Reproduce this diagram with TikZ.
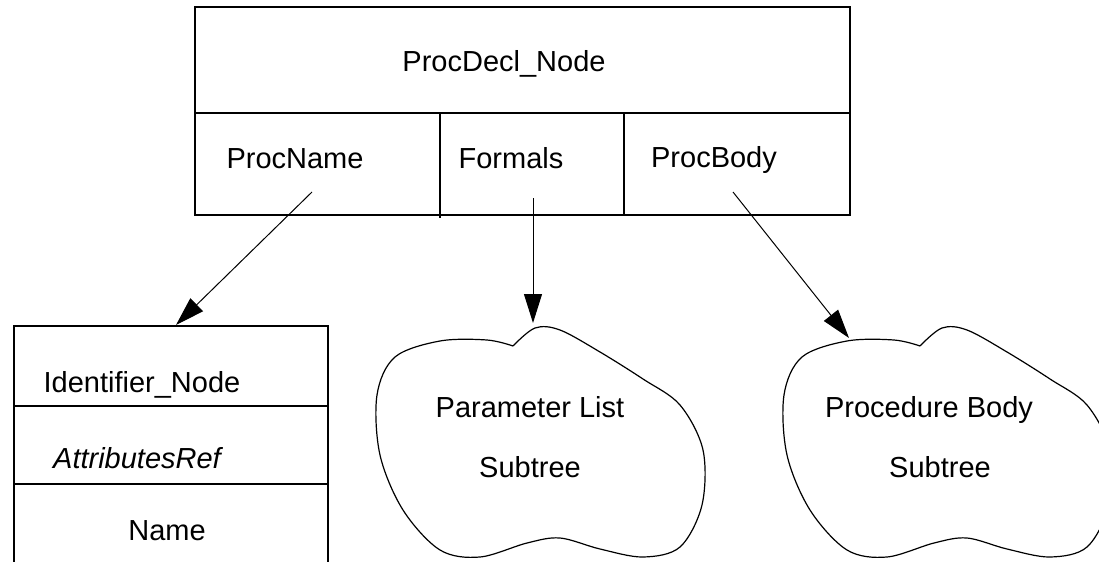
\documentclass[tikz,border=0pt]{standalone}
\usepackage{fontspec}
\setmainfont{Liberation Sans}
\usetikzlibrary{arrows.meta}
\begin{document}
\begin{tikzpicture}[x=0.5pt,y=-0.5pt,
  lbl/.style={anchor=base, inner sep=0pt, font=\fontsize{14.5pt}{17pt}\selectfont},
  frame/.style={draw=black, line width=0.65pt},
  link/.style={draw=black, line width=0.5pt, -{Triangle[length=14.5pt,width=9pt]}},
  cloudline/.style={draw=black, line width=0.6pt}]
\useasboundingbox (0,0) rectangle (1099,562);
\clip (0,0) rectangle (1099,562);

% procedure declaration record
\draw[frame] (195,7) rectangle (850,215);
\draw[frame] (195,113) -- (850,113);
\draw[frame] (440,113) -- (440,218);
\draw[frame] (624,113) -- (624,216);
\node[lbl] (decl)  at (504,71)  {ProcDecl\_Node};
\node[lbl] (pname) at (295,168) {ProcName};
\node[lbl] (forms) at (511,168) {Formals};
\node[lbl] (pbody) at (714,167) {ProcBody};

% identifier record (open at the bottom)
\draw[frame] (14,580) -- (14,326) -- (328,326) -- (328,580);
\draw[frame] (14,406) -- (328,406);
\draw[frame] (14,484) -- (328,484);
\node[lbl] (ident) at (142,392) {Identifier\_Node};
\node[lbl] (attr)  at (137,468) {\itshape AttributesRef};
\node[lbl] (nm)    at (167,540) {Name};

% subtree clouds
\def\cloudoutline{plot[smooth, tension=0.55] coordinates {
  (513,346) (535,328) (560,330) (600,352) (643,379) (680,405) (703,450)
  (702,505) (680,547) (643,557) (600,549) (560,538) (527,543) (480,557)
  (440,550) (403,510) (380,455) (377,395) (395,357) (440,341) (487,340)
  (513,346)}}
\draw[cloudline] \cloudoutline;
\begin{scope}[shift={(407,0)}]
  \draw[cloudline] \cloudoutline;
\end{scope}
\node[lbl] (plist)  at (530,417) {Parameter List};
\node[lbl] (psub)   at (530,477) {Subtree};
\node[lbl] (bodyl)  at (929,417) {Procedure Body};
\node[lbl] (bsub)   at (940,477) {Subtree};

% pointers from the fields
\coordinate (pn-src) at (312,192);
\coordinate (id-top) at (176,325);
\coordinate (fm-src) at (533,198);
\coordinate (pl-top) at (533,323);
\coordinate (pb-src) at (733,192);
\coordinate (bd-top) at (849,338);
\draw[link] (pn-src) -- (id-top);
\draw[link] (fm-src) -- (pl-top);
\draw[link] (pb-src) -- (bd-top);
\end{tikzpicture}
\end{document}
